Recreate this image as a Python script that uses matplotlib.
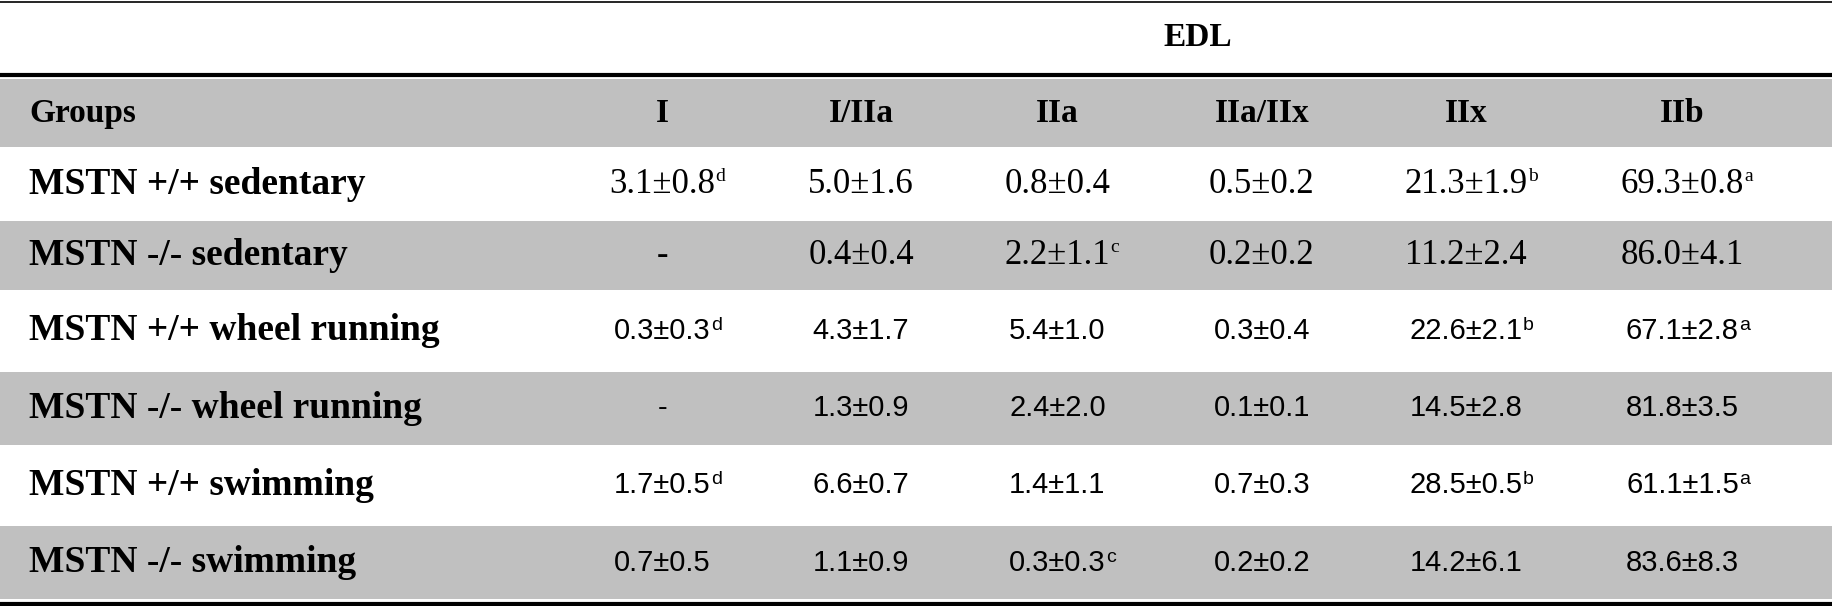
import matplotlib.pyplot as plt
from matplotlib.patches import Rectangle

groups = ["MSTN +/+ sedentary", "MSTN -/- sedentary", "MSTN +/+ wheel running",
          "MSTN -/- wheel running", "MSTN +/+ swimming", "MSTN -/- swimming"]
fiber_types = ["I", "I/IIa", "IIa", "IIa/IIx", "IIx", "IIb"]
values = [
    ["3.1±0.8", "5.0±1.6", "0.8±0.4", "0.5±0.2", "21.3±1.9", "69.3±0.8"],
    ["-", "0.4±0.4", "2.2±1.1", "0.2±0.2", "11.2±2.4", "86.0±4.1"],
    ["0.3±0.3", "4.3±1.7", "5.4±1.0", "0.3±0.4", "22.6±2.1", "67.1±2.8"],
    ["-", "1.3±0.9", "2.4±2.0", "0.1±0.1", "14.5±2.8", "81.8±3.5"],
    ["1.7±0.5", "6.6±0.7", "1.4±1.1", "0.7±0.3", "28.5±0.5", "61.1±1.5"],
    ["0.7±0.5", "1.1±0.9", "0.3±0.3", "0.2±0.2", "14.2±6.1", "83.6±8.3"],
]
sups = [
    ["d", "", "", "", "b", "a"],
    ["", "", "c", "", "", ""],
    ["d", "", "", "", "b", "a"],
    ["", "", "", "", "", ""],
    ["d", "", "", "", "b", "a"],
    ["", "", "c", "", "", ""],
]

W, H = 1832, 606
k = 1832 / 1568  # layout measured on a 1568 px wide view
fig = plt.figure(figsize=(W / 100, H / 100), dpi=100)
ax = fig.add_axes([0, 0, 1, 1])
ax.set_xlim(0, W / k)
ax.set_ylim(H / k, 0)
ax.axis("off")

gray = "#c0c0c0"
serif = "Liberation Serif"
sans = "Liberation Sans"

edges = [66, 128, 187, 250, 316, 383, 448, 515]
col_x = [567, 737, 905, 1080, 1255, 1440]

for i in range(len(edges) - 1):
    if i % 2 == 0:
        ax.add_patch(Rectangle((0, edges[i] + 2), W, edges[i + 1] - edges[i] - 4,
                               color=gray, lw=0))

ax.plot([0, W], [2, 2], color="black", lw=1.2)
ax.plot([0, W], [64, 64], color="black", lw=3)
ax.plot([0, W], [517, 517], color="black", lw=3)

ax.text(1025, 32, "EDL", ha="center", va="center", fontsize=24,
        fontweight="bold", family=serif)

hy = (edges[0] + edges[1]) / 2
ax.text(25, hy, "Groups", ha="left", va="center", fontsize=24,
        fontweight="bold", family=serif)
for x, t in zip(col_x, fiber_types):
    ax.text(x, hy, t, ha="center", va="center", fontsize=24,
            fontweight="bold", family=serif)

for r, g in enumerate(groups):
    y = (edges[r + 1] + edges[r + 2]) / 2
    ax.text(25, y, g, ha="left", va="center", fontsize=27,
            fontweight="bold", family=serif)
    fam = serif if r < 2 else sans
    fs = 25 if r < 2 else 21
    for c, x in enumerate(col_x):
        t = ax.text(x, y, values[r][c], ha="center", va="center",
                    fontsize=fs, family=fam)
        if sups[r][c]:
            ax.annotate(sups[r][c], xy=(1, 1), xycoords=t, ha="left", va="top",
                        fontsize=14, family=fam)

fig.savefig("out.png", dpi=100)
